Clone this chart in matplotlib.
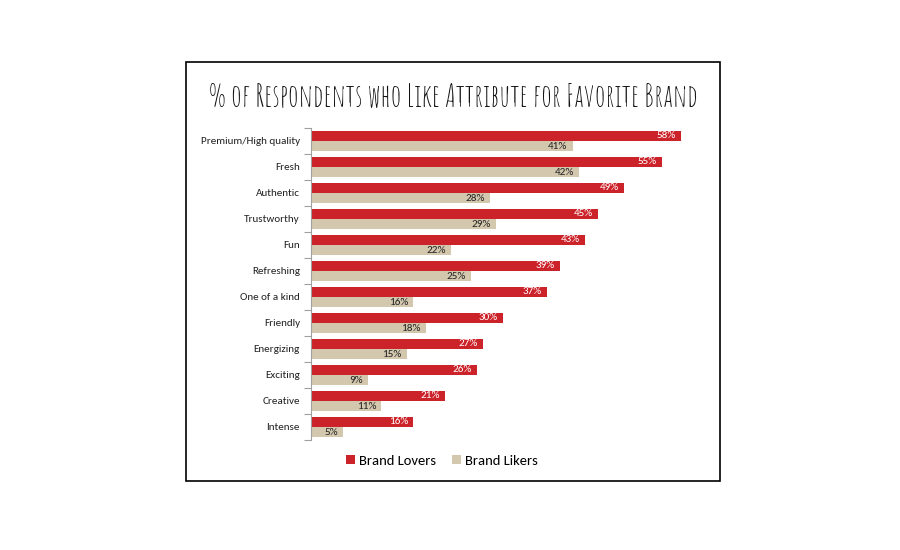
import matplotlib
matplotlib.use("Agg")
import matplotlib.pyplot as plt
from matplotlib.patches import Rectangle, Patch
from matplotlib import font_manager
import numpy as np

categories = ["Premium/High quality", "Fresh", "Authentic", "Trustworthy", "Fun",
              "Refreshing", "One of a kind", "Friendly", "Energizing", "Exciting",
              "Creative", "Intense"]
lovers = [58, 55, 49, 45, 43, 39, 37, 30, 27, 26, 21, 16]
likers = [41, 42, 28, 29, 22, 25, 16, 18, 15, 9, 11, 5]
series_names = ["Brand Lovers", "Brand Likers"]
title = "% of Respondents who Like Attribute for Favorite Brand"

RED = "#CC2229"
TAN = "#D3C8AE"

names = {f.name for f in font_manager.fontManager.ttflist}
def pick(cands):
    return [c for c in cands if c in names] + ["DejaVu Sans"]

body_fonts = pick(["Carlito", "Calibri", "Lato"])
title_fonts = pick(["Amatic SC", "Open Sans Condensed", "Open Sans"])
plt.rcParams['font.family'] = body_fonts

fig = plt.figure(figsize=(9, 5.5), dpi=100)
fig.patch.set_facecolor("white")

# frame
fig.patches.append(Rectangle((186/900, 1-481/550), (720-186)/900, (481-62)/550,
                             transform=fig.transFigure, fill=False,
                             edgecolor="black", linewidth=1.2, zorder=0))

ax = fig.add_axes([311/900, 1-440/550, (694-311)/900, (440-128)/550])
y = np.arange(len(categories))
h = 0.385
b1 = ax.barh(y - h/2, lovers, height=h, color=RED)
b2 = ax.barh(y + h/2, likers, height=h, color=TAN)

for bar, v in zip(b1, lovers):
    ax.text(bar.get_width() - 0.8, bar.get_y() + bar.get_height()/2, f"{v}%",
            ha="right", va="center", color="white", fontsize=8)
for bar, v in zip(b2, likers):
    ax.text(bar.get_width() - 0.8, bar.get_y() + bar.get_height()/2, f"{v}%",
            ha="right", va="center", color="#222222", fontsize=8)

ax.set_xlim(0, 60)
ax.set_ylim(len(categories) - 0.5, -0.5)
ax.set_yticks(y)
ax.set_yticklabels(categories, fontsize=8, color="#222222")
ax.set_yticks(np.arange(-0.5, len(categories)), minor=True)
ax.tick_params(axis="y", which="major", length=0, pad=8)
ax.tick_params(axis="y", which="minor", length=5, color="#A0A0A0", width=0.8)
ax.set_xticks([])
for s in ["top", "right", "bottom"]:
    ax.spines[s].set_visible(False)
ax.spines["left"].set_color("#A0A0A0")
ax.spines["left"].set_linewidth(0.8)

fig.text(453/900, 1-96/550, title, ha="center", va="center",
         fontsize=22.3, family=title_fonts, color="#111111", fontweight="normal")

handles = [Patch(facecolor=RED, label=series_names[0]),
           Patch(facecolor=TAN, label=series_names[1])]
fig.legend(handles=handles, loc="center", bbox_to_anchor=(442/900, 1-461/550),
           ncol=2, frameon=False, fontsize=10.5, handlelength=0.6, handleheight=0.6,
           columnspacing=1.1, handletextpad=0.3)

fig.savefig("out.png", dpi=100)
